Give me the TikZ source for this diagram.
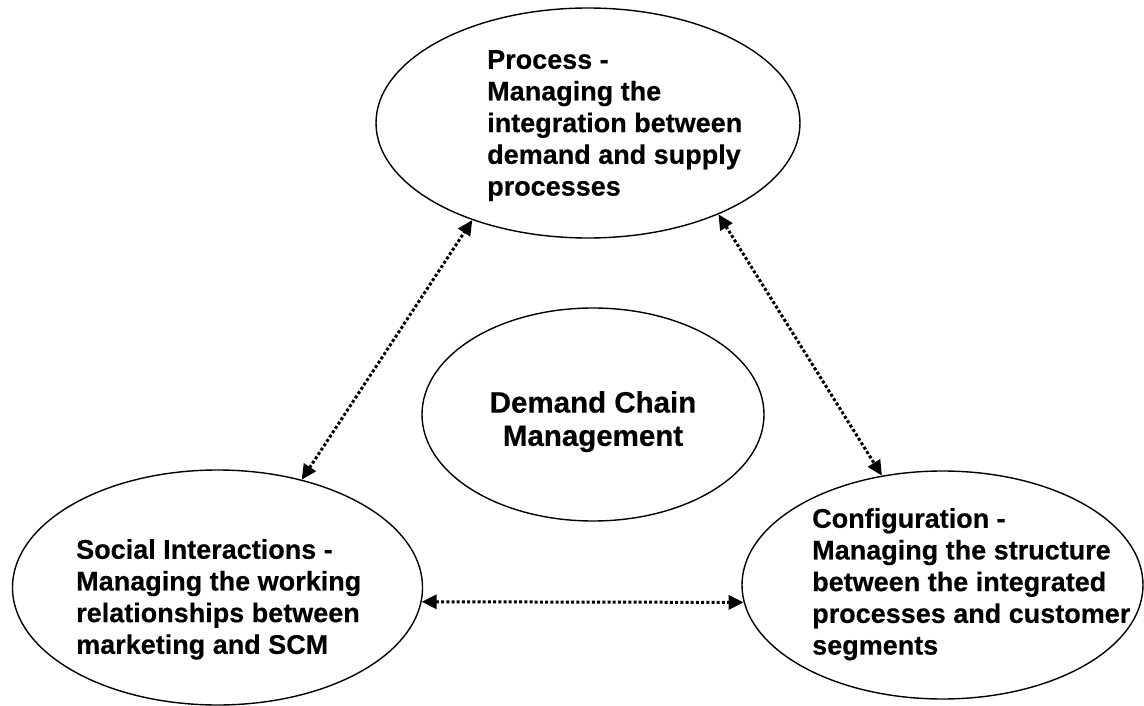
\documentclass[tikz,border=0pt]{standalone}
\usepackage{fontspec}
\setmainfont[BoldFeatures={FakeBold=0.4}]{Liberation Sans}
\usetikzlibrary{shapes.geometric,arrows.meta}
\begin{document}
\begin{tikzpicture}[x=1pt,y=-1pt,
  oval/.style={draw, ellipse, line width=1.4pt, inner sep=0pt},
  lbl/.style={inner sep=0pt, align=left, font=\bfseries\fontsize{27}{31.7}\selectfont},
  clbl/.style={inner sep=0pt, align=center, font=\bfseries\fontsize{29.5}{33.3}\selectfont},
  link/.style={line width=3pt, dash pattern=on 3pt off 2.2pt,
    {Triangle[length=15pt,width=14pt]}-{Triangle[length=15pt,width=14pt]}}]
\useasboundingbox (0,0) rectangle (1144,706);
\node[oval, minimum width=424pt, minimum height=230pt] (proc) at (588,123) {};
\node[oval, minimum width=342pt, minimum height=213pt] (dcm) at (593,414.5) {};
\node[oval, minimum width=410pt, minimum height=235pt] (soc) at (217.5,587.5) {};
\node[oval, minimum width=401pt, minimum height=228pt] (conf) at (942.5,585) {};
\node[lbl, anchor=north west] (proct) at (487,50) {Process -\\Managing the\\integration between\\demand and supply\\processes};
\node[clbl, anchor=north] (dcmt) at (593,391) {Demand Chain\\Management};
\node[lbl, anchor=north west] (soct) at (76,539) {Social Interactions -\\Managing the working\\relationships between\\marketing and SCM};
\node[lbl, anchor=north west] (conft) at (812,508) {Configuration -\\Managing the structure\\between the integrated\\processes and customer\\segments};
\draw[link] (soc.52.5) -- (proc.220.6);
\draw[link] (proc.-35.9) -- (conf.119.9);
\draw[link] (soc.-4.5) -- (conf.185.1);
\end{tikzpicture}
\end{document}
